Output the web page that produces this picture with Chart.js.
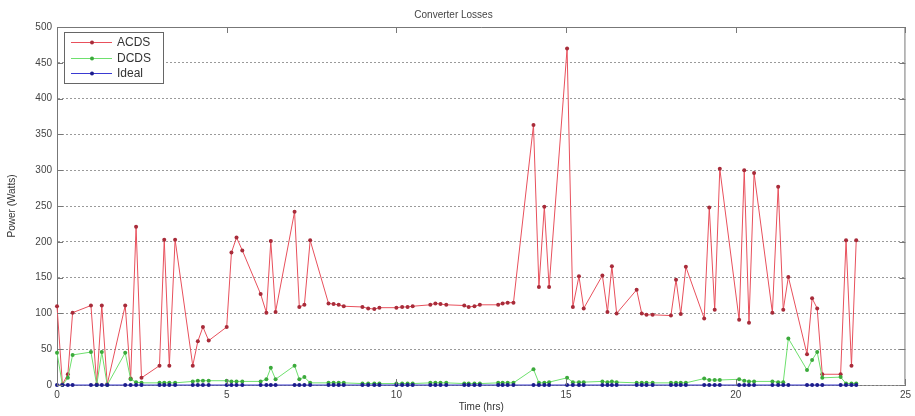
<!DOCTYPE html>
<html lang="en">
<head>
<meta charset="UTF-8">
<title>Converter Losses</title>
<style>
  * { margin: 0; padding: 0; }
  body { background: #fff; overflow: hidden; }
  .chartBox { position: relative; width: 915px; height: 416px; }
</style>
</head>
<body>
<div class="chartBox"><canvas id="myChart"></canvas></div>

<script src="https://cdn.jsdelivr.net/npm/chart.js"></script>
<script>
// sample times in hours (four samples per hour)
const timeHrs = [
  0.00, 0.16, 0.32, 0.46,   1.00, 1.17, 1.32, 1.48,   2.01, 2.17, 2.33, 2.49,
  3.02, 3.16, 3.31, 3.48,   4.00, 4.15, 4.30, 4.47,   5.00, 5.14, 5.29, 5.46,
  6.00, 6.17, 6.30, 6.44,   7.00, 7.14, 7.29, 7.46,   8.00, 8.15, 8.30, 8.45,
  9.00, 9.17, 9.35, 9.50,   10.00, 10.17, 10.33, 10.48,   11.00, 11.15, 11.30, 11.47,
  12.00, 12.13, 12.30, 12.46,   13.00, 13.13, 13.28, 13.45,   14.04, 14.20, 14.36, 14.50,
  15.03, 15.20, 15.38, 15.52,   16.07, 16.22, 16.35, 16.49,   17.08, 17.23, 17.37, 17.55,
  18.09, 18.24, 18.38, 18.53,   19.07, 19.22, 19.38, 19.53,   20.10, 20.25, 20.39, 20.54,
  21.08, 21.25, 21.40, 21.55,   22.10, 22.25, 22.40, 22.55,   23.09, 23.25, 23.41, 23.55
];

// power in watts
const acds = [
  110, 1, 15, 101,     111, 1, 111, 1,      111, 9, 221, 10,     27, 203, 27, 203,
  27, 61, 81, 62,      81, 185, 206, 188,   127, 101, 201, 102,  242, 109, 112, 202,
  114, 113, 112, 110,  109, 107, 106, 108,  108, 109, 109, 110,  112, 114, 113, 112,
  111, 109, 110, 112,  112, 114, 115, 115,  363, 137, 249, 137,  470, 109, 152, 107,
  153, 102, 166, 100,  133, 100, 98, 98,    97, 147, 99, 165,    93, 248, 105, 302,
  91, 300, 87, 296,    101, 277, 105, 151,  43, 121, 107, 15,    15, 202, 27, 202
];

const dcds = [
  45, 0, 10, 42,   46, 0, 46, 0,    45, 8, 4, 3,     3, 3, 3, 3,
  5, 6, 6, 6,      6, 5, 5, 5,      5, 8, 24, 8,     27, 8, 11, 3,
  3, 3, 3, 3,      2, 2, 2, 2,      2, 2, 2, 2,      3, 3, 3, 3,
  2, 2, 2, 2,      3, 3, 3, 3,      22, 3, 3, 4,     10, 4, 4, 4,
  5, 4, 5, 4,      3, 3, 3, 3,      3, 3, 3, 3,      9, 7, 7, 7,
  8, 6, 5, 5,      5, 4, 4, 65,     21, 35, 46, 10,  11, 2, 2, 2
];

const ideal = [
  0, 0, 0, 0,  0, 0, 0, 0,  0, 0, 0, 0,  0, 0, 0, 0,  0, 0, 0, 0,  0, 0, 0, 0,
  0, 0, 0, 0,  0, 0, 0, 0,  0, 0, 0, 0,  0, 0, 0, 0,  0, 0, 0, 0,  0, 0, 0, 0,
  0, 0, 0, 0,  0, 0, 0, 0,  0, 0, 0, 0,  0, 0, 0, 0,  0, 0, 0, 0,  0, 0, 0, 0,
  0, 0, 0, 0,  0, 0, 0, 0,  0, 0, 0, 0,  0, 0, 0, 0,  0, 0, 0, 0,  0, 0, 0, 0
];

const seriesNames = ['ACDS', 'DCDS', 'Ideal'];
const xTicks = [0, 5, 10, 15, 20, 25];
const yTicks = [0, 50, 100, 150, 200, 250, 300, 350, 400, 450, 500];

const FONT = '"Liberation Sans", Arial, Helvetica, sans-serif';

function toPoints(vals) {
  return timeHrs.map((t, i) => ({ x: t, y: vals[i] }));
}

// matlab style box, inward ticks and legend inside the axes
const matlabFrame = {
  id: 'matlabFrame',
  afterDraw(chart) {
    const { ctx, chartArea: { left, right, top, bottom }, scales: { x, y } } = chart;
    ctx.save();
    ctx.strokeStyle = '#777';
    ctx.lineWidth = 1;
    ctx.beginPath();
    ctx.moveTo(left + 0.5, top + 0.5);
    ctx.lineTo(right - 0.5, top + 0.5);
    ctx.lineTo(right - 0.5, bottom - 0.5);
    ctx.stroke();

    ctx.beginPath();
    xTicks.forEach(v => {
      const px = Math.round(x.getPixelForValue(v)) + 0.5;
      ctx.moveTo(px, bottom); ctx.lineTo(px, bottom - 6);
      ctx.moveTo(px, top); ctx.lineTo(px, top + 6);
    });
    yTicks.forEach(v => {
      const py = Math.round(y.getPixelForValue(v)) + 0.5;
      ctx.moveTo(left, py); ctx.lineTo(left + 6, py);
      ctx.moveTo(right, py); ctx.lineTo(right - 6, py);
    });
    ctx.stroke();

    // legend
    const bx = left + 7, by = top + 5, bw = 99, bh = 51;
    ctx.fillStyle = '#fff';
    ctx.fillRect(bx, by, bw, bh);
    ctx.strokeStyle = '#666';
    ctx.strokeRect(bx + 0.5, by + 0.5, bw, bh);
    ctx.font = '12px ' + FONT;
    ctx.textBaseline = 'middle';
    const rows = [10, 26, 41];
    chart.data.datasets.forEach((ds, i) => {
      const ly = by + rows[i] + 0.5;
      ctx.strokeStyle = ds.borderColor;
      ctx.beginPath();
      ctx.moveTo(bx + 7, ly); ctx.lineTo(bx + 48, ly);
      ctx.stroke();
      ctx.fillStyle = ds.pointBackgroundColor;
      ctx.beginPath();
      ctx.arc(bx + 28, ly, 2, 0, Math.PI * 2);
      ctx.fill();
      ctx.fillStyle = '#333';
      ctx.fillText(ds.label, bx + 53, ly);
    });
    ctx.restore();
  }
};

const data = {
  datasets: [
    {
      label: seriesNames[0],
      data: toPoints(acds),
      borderColor: '#e8505c',
      pointBackgroundColor: '#a82c3a',
      order: 2
    },
    {
      label: seriesNames[1],
      data: toPoints(dcds),
      borderColor: '#6ee06e',
      pointBackgroundColor: '#3caa3c',
      order: 1
    },
    {
      label: seriesNames[2],
      data: toPoints(ideal),
      borderColor: '#3a3ad2',
      pointBackgroundColor: '#1c1c8c',
      order: 0
    }
  ]
};
data.datasets.forEach(ds => {
  ds.borderWidth = 1;
  ds.pointRadius = 2;
  ds.pointBorderWidth = 0;
  ds.tension = 0;
  ds.fill = false;
  ds.clip = 4;
});

const config = {
  type: 'line',
  data,
  options: {
    responsive: true,
    maintainAspectRatio: false,
    animation: false,
    devicePixelRatio: 1,
    layout: { padding: { left: 0, right: 8, top: 0, bottom: 0 } },
    plugins: {
      legend: { display: false },
      tooltip: { enabled: false },
      title: {
        display: true,
        text: 'Converter Losses',
        color: '#444',
        font: { family: FONT, size: 10, weight: 'normal' },
        padding: { top: 9, bottom: 6 }
      }
    },
    scales: {
      x: {
        type: 'linear',
        min: 0,
        max: 25,
        afterBuildTicks: s => { s.ticks = xTicks.map(v => ({ value: v })); },
        afterFit: s => { s.height = 31; },
        grid: { display: false, drawTicks: false },
        border: { display: true, color: '#777', z: -1 },
        ticks: { color: '#444', font: { family: FONT, size: 10 }, padding: 4, maxRotation: 0 },
        title: {
          display: true,
          text: 'Time (hrs)',
          color: '#333',
          font: { family: FONT, size: 10 },
          padding: { top: 0, bottom: 3 }
        }
      },
      y: {
        min: 0,
        max: 500,
        afterBuildTicks: s => { s.ticks = yTicks.map(v => ({ value: v })); },
        afterFit: s => { s.width = 57; },
        grid: { color: '#9a9a9a', lineWidth: 1, drawTicks: false },
        border: { display: true, color: '#777', dash: [2, 2] },
        ticks: { color: '#444', font: { family: FONT, size: 10 }, padding: 5 },
        title: {
          display: true,
          text: 'Power (Watts)',
          color: '#333',
          font: { family: FONT, size: 10 },
          padding: { top: 6, bottom: 0 }
        }
      }
    }
  },
  plugins: [matlabFrame]
};

const myChart = new Chart(document.getElementById('myChart'), config);
</script>
</body>
</html>
